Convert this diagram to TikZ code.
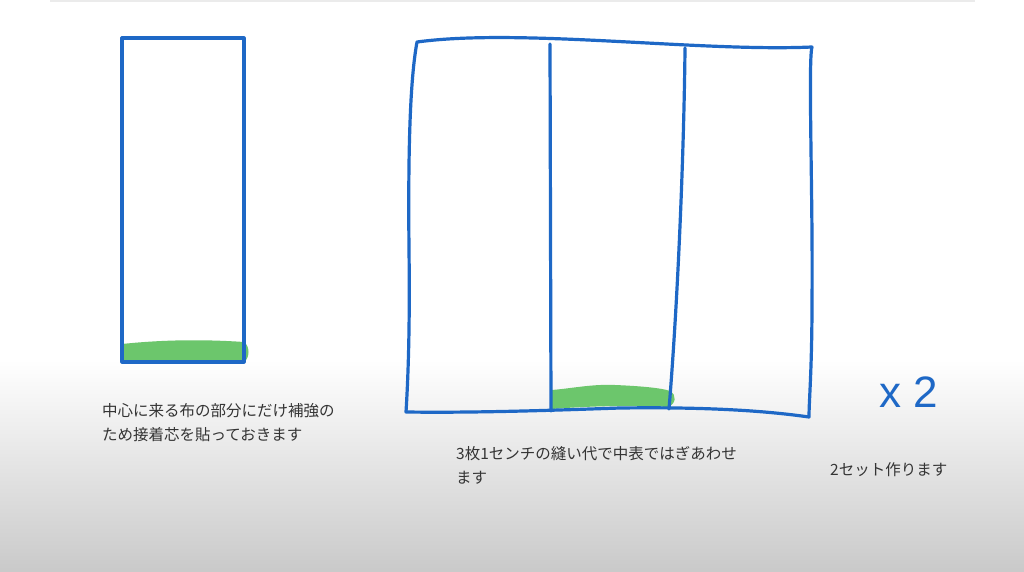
\documentclass[tikz,border=0pt]{standalone}
\usepackage{fontspec}
\newfontfamily\jpfont{Noto Sans CJK JP}
\newfontfamily\handfont{Liberation Sans}
\definecolor{penblue}{RGB}{30,104,198}
\definecolor{fusegreen}{RGB}{108,198,108}
\definecolor{notegray}{RGB}{52,52,52}
\begin{document}
\begin{tikzpicture}[x=1pt,y=-1pt,
                    pen/.style={draw=penblue,line width=3.2pt,line join=round,line cap=round},
                    fuse/.style={fill=fusegreen},
                    note/.style={font=\jpfont\fontsize{15.5}{24}\selectfont,text=notegray,
                                 align=left,inner sep=0pt,anchor=north west}]

    % Define background
    \useasboundingbox (0,0) rectangle (1024,572);
    \fill[white] (0,0) rectangle (1024,360);
    \shade[top color=white,bottom color=black!21] (0,360) rectangle (1024,572);
    \fill[black!8] (50,0) rectangle (975,2);

    % Center strip
    \fill[fuse] (122,362) -- (122,344) .. controls (160,340) and (200,339) .. (244,342)
                .. controls (250,346) and (250,358) .. (244,362) -- cycle;
    \draw[pen] (122,38) rectangle (244,362);

    % Three panels sewn together
    \fill[fuse] (552,409) -- (552,390) .. controls (575,388) and (592,384) .. (615,385)
                .. controls (640,386) and (662,388) .. (670,391)
                .. controls (677,395) and (676,404) .. (668,407)
                .. controls (630,405) and (590,406) .. (552,409) -- cycle;
    \draw[pen] (417,42) .. controls (520,28) and (700,52) .. (812,47)
               .. controls (808,60) and (813,200) .. (812,300)
               .. controls (812,370) and (809,400) .. (809,417)
               .. controls (760,410) and (700,407) .. (620,408)
               .. controls (560,410) and (480,413) .. (406,412)
               .. controls (408,380) and (410,330) .. (409,250)
               .. controls (408,150) and (410,80) .. (417,42) -- cycle;
    \draw[pen] (550,44) -- (551,411);
    \draw[pen] (685,48) .. controls (684,150) and (678,300) .. (669,409);

    % Define notes
    \node[note] (strip note) at (102,403) {中心に来る布の部分にだけ補強の\\ため接着芯を貼っておきます};
    \node[note] (seam note) at (456,446) {3枚1センチの縫い代で中表ではぎあわせ\\ます};
    \node[note] (set note) at (830,462) {2セット作ります};
    \node[font=\handfont\fontsize{44}{44}\selectfont,text=penblue,inner sep=0pt] (times two) at (909,392) {x 2};

\end{tikzpicture}
\end{document}
